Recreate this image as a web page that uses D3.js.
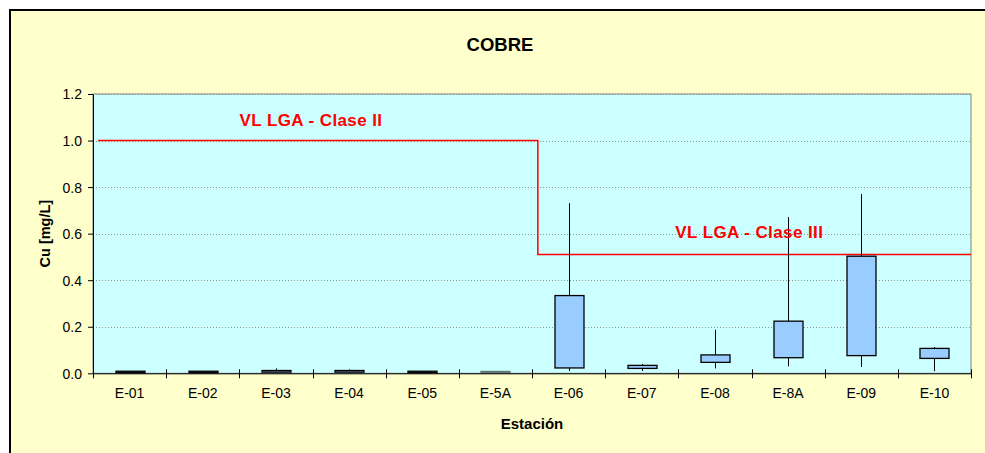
<!DOCTYPE html>
<html>
<head>
<meta charset="utf-8">
<script src="https://cdn.jsdelivr.net/npm/d3@7"></script>
<style>
  html, body { margin: 0; padding: 0; background: #ffffff; }
  svg { display: block; font-family: "Liberation Sans", Arial, sans-serif; }
</style>
</head>
<body>
<svg id="chart" width="985" height="453"></svg>
<script>
// ---- data ----
const categories = ["E-01","E-02","E-03","E-04","E-05","E-5A","E-06","E-07","E-08","E-8A","E-09","E-10"];
const whiskerMin = [0.003, 0.003, 0.004, 0.004, 0.003, 0.003, 0.010, 0.010, 0.021, 0.030, 0.027, 0.009];
const boxLow     = [0.003, 0.003, 0.005, 0.005, 0.003, 0.003, 0.023, 0.021, 0.047, 0.067, 0.076, 0.064];
const boxHigh    = [0.009, 0.009, 0.012, 0.012, 0.009, 0.008, 0.334, 0.034, 0.079, 0.224, 0.503, 0.107];
const whiskerMax = [0.009, 0.009, 0.021, 0.017, 0.009, 0.008, 0.731, 0.040, 0.187, 0.671, 0.770, 0.113];
const yTicks = [0.0, 0.2, 0.4, 0.6, 0.8, 1.0, 1.2];
// limit line (station index position, value)
const limitX = [0.07, 6.08, 6.08, 12];
const limitY = [1.0, 1.0, 0.51, 0.51];
const limitLabels = ["VL LGA - Clase II", "VL LGA - Clase III"];
const limitLabelX = [2.98, 8.97];
const limitLabelY = [1.086, 0.606];

// ---- layout ----
const svg = d3.select("#chart");
const W = 985, H = 453;
const plot = { left: 93, right: 971, top: 94, bottom: 373.3 };

svg.append("rect").attr("x", 0).attr("y", 0).attr("width", W).attr("height", H).attr("fill", "#ffffff");
svg.append("rect").attr("x", 10).attr("y", 10).attr("width", W + 20).attr("height", H + 20)
  .attr("fill", "#FFFFCC").attr("stroke", "#000").attr("stroke-width", 2);

const x = d3.scaleBand().domain(categories).range([plot.left, plot.right]).padding(0);
const xi = d3.scaleLinear().domain([0, categories.length]).range([plot.left, plot.right]);
const y = d3.scaleLinear().domain([0, 1.2]).range([plot.bottom, plot.top]);

// plot background
svg.append("rect").attr("x", plot.left).attr("y", plot.top)
  .attr("width", plot.right - plot.left).attr("height", plot.bottom - plot.top)
  .attr("fill", "#CCFFFF").attr("stroke", "#808080").attr("stroke-width", 1);

// grid
svg.append("g").selectAll("line").data(yTicks.filter(d => d > 0)).join("line")
  .attr("x1", plot.left).attr("x2", plot.right)
  .attr("y1", d => Math.round(y(d)) + 0.5).attr("y2", d => Math.round(y(d)) + 0.5)
  .attr("stroke", "#8a9a8a").attr("stroke-width", 1).attr("stroke-dasharray", "1,2");

// limit line
const lineGen = d3.line().x(d => xi(d[0])).y(d => y(d[1]));
svg.append("path").datum(limitX.map((v, i) => [v, limitY[i]]))
  .attr("d", lineGen).attr("fill", "none").attr("stroke", "#FF0000").attr("stroke-width", 1.5);

// boxes
const bw = 29;
const g = svg.append("g");
categories.forEach((c, i) => {
  const cx = Math.round(x(c) + x.bandwidth() / 2) + 0.5;
  g.append("line").attr("x1", cx).attr("x2", cx)
    .attr("y1", y(whiskerMin[i])).attr("y2", y(whiskerMax[i]))
    .attr("stroke", "#000").attr("stroke-width", 1);
  g.append("rect").attr("x", cx - bw / 2).attr("y", y(boxHigh[i]))
    .attr("width", bw).attr("height", Math.max(0.5, y(boxLow[i]) - y(boxHigh[i])))
    .attr("fill", "#99CCFF").attr("stroke", i === 5 ? "#607878" : "#000").attr("stroke-width", 1.3);
});

// axes
const yAxis = d3.axisLeft(y).tickValues(yTicks).tickFormat(d3.format(".1f")).tickSize(5).tickSizeOuter(0);
const gy = svg.append("g").attr("transform", `translate(${plot.left},0)`).call(yAxis);
gy.select(".domain").attr("stroke", "#000");
gy.selectAll(".tick line").attr("stroke", "#000");
gy.selectAll("text").attr("font-size", 14).attr("fill", "#000").attr("x", -11).attr("dy", "0.35em");

const xAxis = d3.axisBottom(x).tickSize(0).tickSizeOuter(0);
const gx = svg.append("g").attr("transform", `translate(0,${plot.bottom})`).call(xAxis);
gx.select(".domain").attr("stroke", "#000");
gx.selectAll("text").attr("font-size", 14).attr("fill", "#000").attr("y", 15).attr("dy", "0.71em");
// category separator ticks
svg.append("g").selectAll("line").data(d3.range(categories.length + 1)).join("line")
  .attr("x1", d => Math.round(xi(d)) + 0.5).attr("x2", d => Math.round(xi(d)) + 0.5)
  .attr("y1", plot.bottom - 4).attr("y2", plot.bottom + 5)
  .attr("stroke", "#000").attr("stroke-width", 1);

// limit labels
limitLabels.forEach((t, i) => {
  svg.append("text").attr("x", xi(limitLabelX[i])).attr("y", y(limitLabelY[i]))
    .attr("text-anchor", "middle").attr("dy", "0.35em")
    .attr("font-size", 17).attr("letter-spacing", 0.4).attr("font-weight", "bold").attr("fill", "#FF0000").text(t);
});

// titles
svg.append("text").attr("x", 500).attr("y", 51).attr("text-anchor", "middle")
  .attr("font-size", 18.5).attr("font-weight", "bold").text("COBRE");
svg.append("text").attr("x", 532).attr("y", 429).attr("text-anchor", "middle")
  .attr("font-size", 15).attr("font-weight", "bold").text("Estación");
svg.append("text").attr("transform", `translate(50,${(plot.top + plot.bottom) / 2}) rotate(-90)`)
  .attr("text-anchor", "middle").attr("font-size", 14.5).attr("font-weight", "bold").text("Cu [mg/L]");
</script>
</body>
</html>
